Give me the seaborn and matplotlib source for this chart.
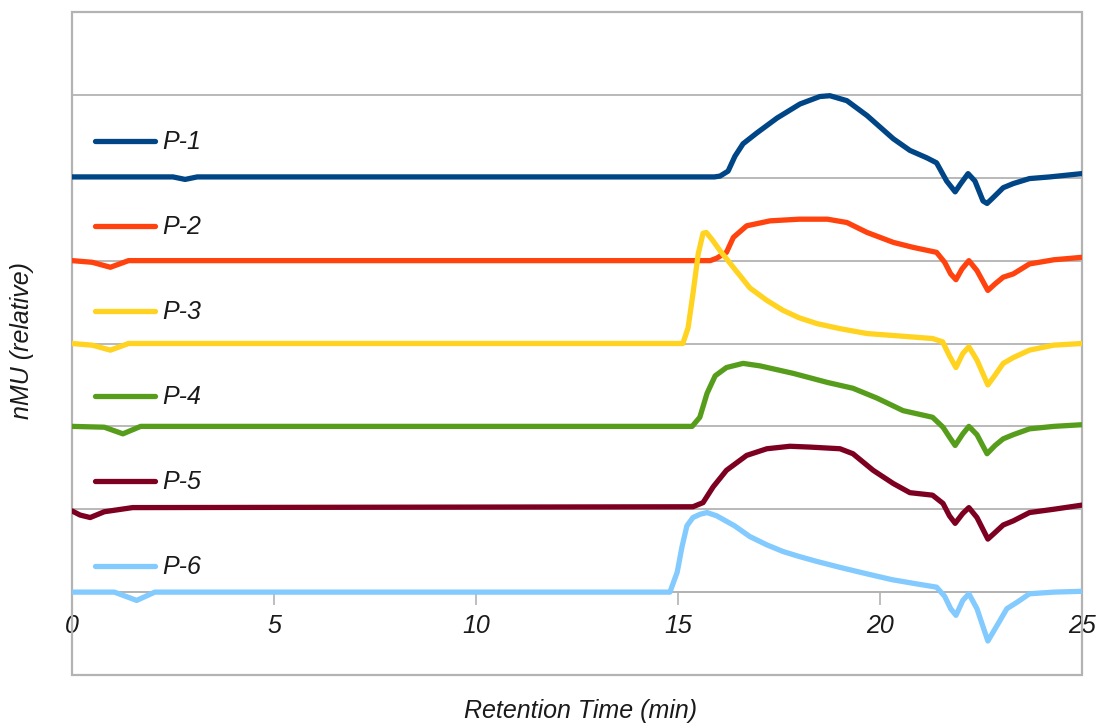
import matplotlib
matplotlib.use("Agg")
import matplotlib.pyplot as plt
from matplotlib.patches import Rectangle
import numpy as np
import pandas as pd
import seaborn as sns

# Chromatogram traces (retention time in min, relative signal above each baseline)
samples = ["P-1", "P-2", "P-3", "P-4", "P-5", "P-6"]
baselines = [5, 4, 3, 2, 1, 0]
colors = ["#004586", "#ff420e", "#ffd320", "#579d1c", "#7e0021", "#83caff"]

p1_time = [0, 2.5, 2.8, 3.1, 15.9, 16.04, 16.24, 16.41, 16.61, 16.95, 17.45, 18.02, 18.51,
           18.76, 19.18, 19.68, 20.33, 20.74, 21.16, 21.4, 21.65, 21.86, 22.0,
           22.18, 22.35, 22.55, 22.65, 22.8, 23.05, 23.3, 23.7, 24.2, 25.0]
p1_signal = [0.01, 0.01, -0.02, 0.01, 0.01, 0.02, 0.08, 0.26, 0.41, 0.54, 0.72, 0.89, 0.98,
             0.99, 0.93, 0.75, 0.47, 0.33, 0.24, 0.18, -0.04, -0.17, -0.07,
             0.05, -0.04, -0.28, -0.31, -0.24, -0.12, -0.07, -0.01, 0.01, 0.05]

p2_time = [0, 0.5, 0.95, 1.4, 15.8, 15.96, 16.2, 16.37, 16.7, 17.28, 18.0, 18.7, 19.18,
           19.68, 20.33, 20.82, 21.4, 21.6, 21.75, 21.88, 22.03, 22.2,
           22.4, 22.67, 22.85, 23.05, 23.3, 23.7, 24.3, 25.0]
p2_signal = [0.0, -0.02, -0.08, 0.0, 0.0, 0.03, 0.1, 0.28, 0.42, 0.48, 0.5, 0.5, 0.46,
             0.34, 0.22, 0.16, 0.1, -0.02, -0.16, -0.23, -0.1, 0.0,
             -0.12, -0.36, -0.28, -0.2, -0.16, -0.04, 0.01, 0.04]

p3_time = [0, 0.5, 0.95, 1.4, 15.12, 15.25, 15.37, 15.5, 15.62, 15.7, 15.85, 16.04, 16.4,
           16.78, 17.2, 17.6, 18.0, 18.44, 19.0, 19.68, 20.5, 21.3, 21.55, 21.72, 21.88,
           22.05, 22.2, 22.4, 22.67, 22.85, 23.05, 23.3, 23.7, 24.3, 25.0]
p3_signal = [0.0, -0.02, -0.08, 0.0, 0.0, 0.19, 0.6, 1.08, 1.33, 1.34, 1.25, 1.12, 0.9,
             0.67, 0.52, 0.4, 0.31, 0.24, 0.18, 0.12, 0.09, 0.06, 0.02, -0.15, -0.29,
             -0.12, -0.04, -0.2, -0.5, -0.38, -0.24, -0.17, -0.08, -0.02, 0.0]

p4_time = [0, 0.8, 1.26, 1.7, 15.35, 15.54, 15.72, 15.92, 16.2, 16.61, 17.03, 17.85, 18.7,
           19.33, 19.93, 20.57, 21.3, 21.56, 21.72, 21.86, 22.05, 22.2, 22.4, 22.65,
           22.85, 23.05, 23.3, 23.7, 24.3, 25.0]
p4_signal = [0.0, -0.01, -0.09, 0.0, 0.0, 0.11, 0.4, 0.61, 0.71, 0.76, 0.73, 0.64, 0.53,
             0.46, 0.34, 0.19, 0.11, -0.01, -0.13, -0.23, -0.09, 0.0, -0.1, -0.33,
             -0.23, -0.15, -0.1, -0.03, 0.0, 0.02]

p5_time = [0, 0.2, 0.45, 0.8, 1.5, 15.37, 15.62, 15.87, 16.2, 16.7, 17.2, 17.77, 18.27,
           19.01, 19.33, 19.83, 20.33, 20.74, 21.3, 21.56, 21.72, 21.86, 22.05, 22.2,
           22.4, 22.67, 22.85, 23.05, 23.3, 23.7, 24.3, 25.0]
p5_signal = [-0.02, -0.07, -0.1, -0.03, 0.02, 0.03, 0.08, 0.27, 0.47, 0.65, 0.73, 0.76, 0.75,
             0.73, 0.67, 0.47, 0.31, 0.2, 0.17, 0.07, -0.08, -0.17, -0.05, 0.02,
             -0.1, -0.36, -0.28, -0.19, -0.14, -0.04, 0.0, 0.05]

p6_time = [0, 1.05, 1.6, 2.05, 14.8, 14.98, 15.1, 15.22, 15.37, 15.55, 15.72, 15.96, 16.4,
           16.78, 17.2, 17.6, 18.0, 18.44, 19.0, 19.68, 20.3, 20.9, 21.4, 21.6, 21.75,
           21.88, 22.05, 22.2, 22.4, 22.67, 22.9, 23.14, 23.4, 23.7, 24.3, 25.0]
p6_signal = [0.0, 0.0, -0.1, 0.0, 0.0, 0.24, 0.55, 0.8, 0.9, 0.94, 0.96, 0.92, 0.8,
             0.67, 0.57, 0.49, 0.43, 0.37, 0.3, 0.22, 0.15, 0.1, 0.06, -0.05, -0.2,
             -0.28, -0.1, -0.02, -0.2, -0.59, -0.4, -0.2, -0.12, -0.02, 0.0, 0.01]

x_ticks = [0, 5, 10, 15, 20, 25]
x_label = "Retention Time (min)"
y_label = "nMU (relative)"

traces = [(p1_time, p1_signal), (p2_time, p2_signal), (p3_time, p3_signal),
          (p4_time, p4_signal), (p5_time, p5_signal), (p6_time, p6_signal)]

frames = []
for name, base, (t, s) in zip(samples, baselines, traces):
    frames.append(pd.DataFrame({"time": t,
                                "signal": np.asarray(s) + base,
                                "sample": name}))
df = pd.concat(frames, ignore_index=True)

sns.set_theme(style="white")
plt.rcParams["font.family"] = ["Liberation Sans", "DejaVu Sans"]

text_color = "#1a1a1a"
grid_color = "#b3b3b3"
lw = 3.8

fig = plt.figure(figsize=(10.97, 7.25), dpi=100)
ax = fig.add_axes([72 / 1097, 50 / 725, 1010 / 1097, 663 / 725])

sns.lineplot(data=df, x="time", y="signal", hue="sample", hue_order=samples,
             palette=dict(zip(samples, colors)), estimator=None, sort=False,
             linewidth=lw, ax=ax, zorder=3)
for line in ax.get_lines():
    line.set_solid_joinstyle("round")
    line.set_solid_capstyle("round")

ax.set_xlim(0, 25)
ax.set_ylim(-1, 7)
ax.set_yticks(range(0, 8))
ax.set_yticklabels([])
ax.tick_params(axis="y", length=0, left=False)
ax.yaxis.grid(True, color=grid_color, linewidth=1.3)
ax.xaxis.grid(False)

# x axis sits on the zero line, frame drawn around the whole plot area
for side in ["top", "left", "right"]:
    ax.spines[side].set_visible(False)
ax.spines["bottom"].set_position(("data", 0))
ax.spines["bottom"].set_color(grid_color)
ax.spines["bottom"].set_linewidth(1.3)
ax.add_patch(Rectangle((0, 0), 1, 1, transform=ax.transAxes, fill=False,
                       edgecolor=grid_color, linewidth=1.6, clip_on=False, zorder=1))

ax.set_xticks(x_ticks)
ax.set_xticklabels([str(v) for v in x_ticks])
ax.tick_params(axis="x", bottom=True, direction="out", length=9, width=1.2,
               color=grid_color, pad=7, labelsize=18, labelcolor=text_color)
for lab in ax.get_xticklabels():
    lab.set_fontstyle("italic")

ax.set_xlabel(x_label, fontsize=18, fontstyle="italic", color=text_color)
ax.xaxis.label.set_va("center")
ax.xaxis.set_label_coords(0.5035, -0.0543)
ax.set_ylabel(y_label, fontsize=18, fontstyle="italic", color=text_color)
ax.yaxis.label.set_va("center")
ax.yaxis.set_label_coords(-0.0495, 0.504)

handles, labels = ax.get_legend_handles_labels()
leg = ax.legend(handles, labels, loc="upper left", bbox_to_anchor=(0.0228, 0.8215),
                frameon=False, borderpad=0, borderaxespad=0, handlelength=2.4,
                handletextpad=0.28, labelspacing=2.44,
                prop={"size": 18, "style": "italic"})
for line in leg.get_lines():
    line.set_linewidth(lw)
for txt in leg.get_texts():
    txt.set_color(text_color)

fig.savefig("out.png", dpi=100)
